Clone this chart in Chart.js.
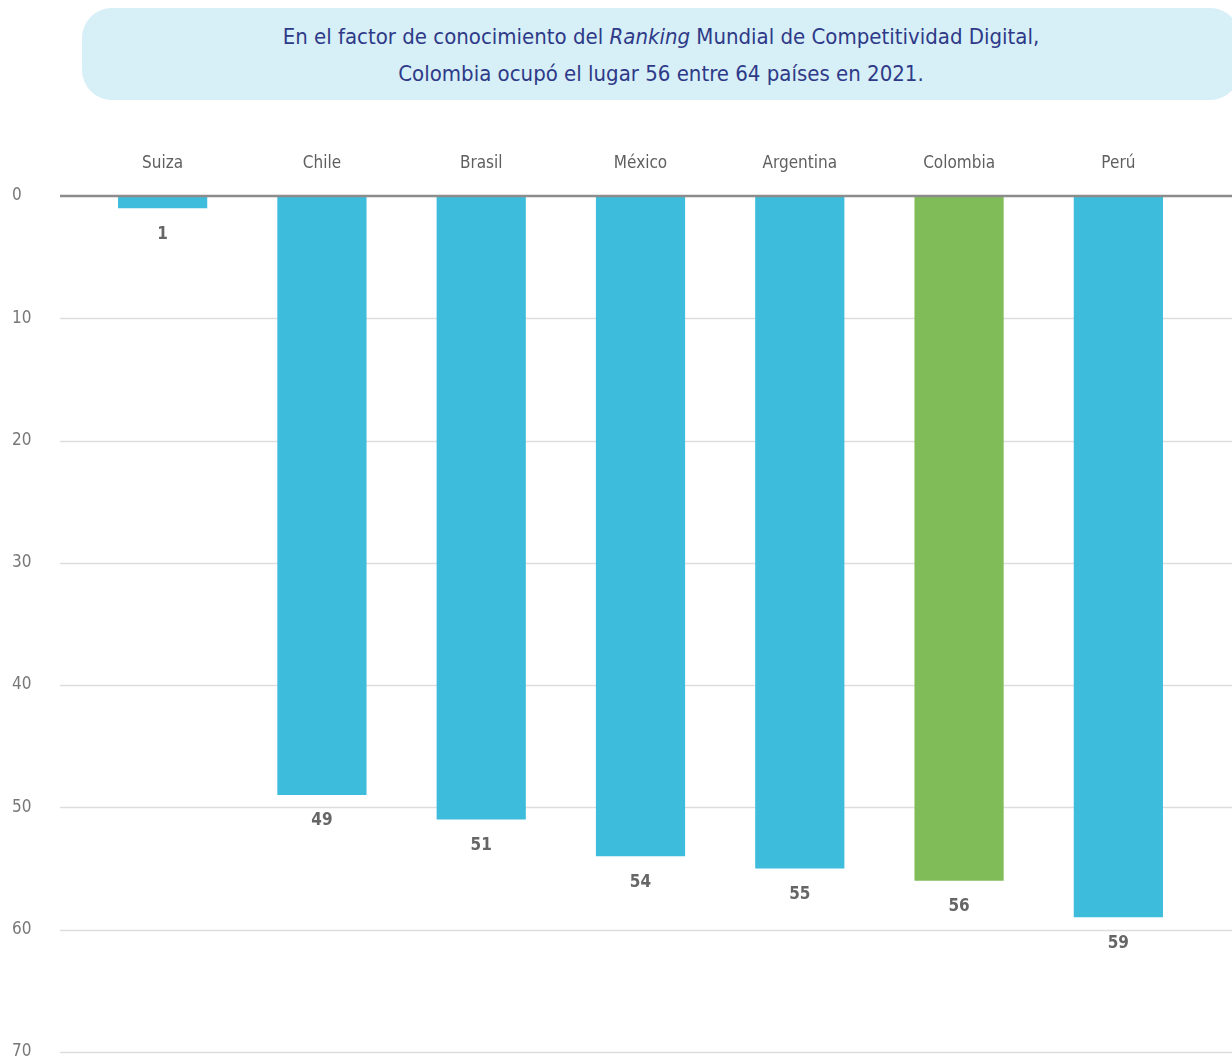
<!DOCTYPE html>
<html>
<head>
<meta charset="utf-8">
<script src="https://cdn.jsdelivr.net/npm/chart.js@4.4.1/dist/chart.umd.min.js"></script>
<style>
  html, body { margin: 0; padding: 0; background: #fff; }
  #wrap { position: relative; width: 1232px; height: 1062px; overflow: hidden; }
  #title {
    position: absolute; left: 82px; top: 8px; width: 1158px; height: 92px;
    background: #d7eff7; border-radius: 30px;
    font-family: "Liberation Sans Narrow", "DejaVu Sans Condensed", sans-serif;
    font-size: 22px; line-height: 37px; color: #2e3a87; text-align: center;
    box-sizing: border-box; padding-top: 10px;
  }
  #myChart { position: absolute; left: 0; top: 0; }
</style>
</head>
<body>
<div id="wrap">
  <canvas id="myChart" width="1232" height="1062"></canvas>
  <div id="title">En el factor de conocimiento del <i>Ranking</i> Mundial de Competitividad Digital,<br>Colombia ocupó el lugar 56 entre 64 países en 2021.</div>
</div>
<script>
// ranking puestos (menor = mejor)
let countries = ['Suiza', 'Chile', 'Brasil', 'México', 'Argentina', 'Colombia', 'Perú'];
let ranks = [1, 49, 51, 54, 55, 56, 59];
let yTicks = [0, 10, 20, 30, 40, 50, 60, 70];

let blue = '#3dbcdc';
let green = '#80bd58';
let fontFam = '"Liberation Sans Narrow", "DejaVu Sans Condensed", sans-serif';

let barColors = countries.map(c => c == 'Colombia' ? green : blue);

// grid lines span wider than the category area, so draw them by hand
const gridLines = {
  id: 'gridLines',
  beforeDatasetsDraw(chart) {
    let ctx = chart.ctx;
    let y = chart.scales.y;
    ctx.save();
    ctx.strokeStyle = '#dddddd';
    ctx.lineWidth = 1.5;
    yTicks.forEach(t => {
      if (t == 0) return;
      let py = Math.round(y.getPixelForValue(t)) + 0.5;
      ctx.beginPath();
      ctx.moveTo(60, py);
      ctx.lineTo(chart.width, py);
      ctx.stroke();
    });
    ctx.restore();
  },
  afterDatasetsDraw(chart) {
    let ctx = chart.ctx;
    let y = chart.scales.y;
    ctx.save();
    // zero line on top of the bars
    let py = y.getPixelForValue(0);
    ctx.strokeStyle = '#8c8c8c';
    ctx.lineWidth = 2.5;
    ctx.beginPath();
    ctx.moveTo(60, py);
    ctx.lineTo(chart.width, py);
    ctx.stroke();

    // value labels under each bar
    ctx.fillStyle = '#666666';
    ctx.font = 'bold 17px ' + fontFam;
    ctx.textAlign = 'center';
    ctx.textBaseline = 'middle';
    let meta = chart.getDatasetMeta(0);
    meta.data.forEach((bar, i) => {
      ctx.fillText(ranks[i], bar.x, bar.y + 26);
    });
    ctx.restore();
  }
};

const config = {
  type: 'bar',
  data: {
    labels: countries,
    datasets: [{
      data: ranks,
      backgroundColor: barColors,
      borderWidth: 0,
      categoryPercentage: 1,
      barPercentage: 0.56
    }]
  },
  options: {
    responsive: false,
    animation: false,
    layout: { padding: { left: 12, right: 34, top: 0, bottom: 10 } },
    plugins: {
      legend: { display: false },
      tooltip: { enabled: false }
    },
    scales: {
      x: {
        position: 'top',
        grid: { display: false, drawTicks: false },
        border: { display: false },
        ticks: {
          color: '#5f5f5f',
          font: { family: fontFam, size: 17 },
          padding: 22
        },
        afterFit(scale) { scale.height = 196; }
      },
      y: {
        reverse: true,
        min: 0,
        max: 70,
        grid: { display: false, drawTicks: false },
        border: { display: false },
        ticks: {
          stepSize: 10,
          color: '#777777',
          font: { family: fontFam, size: 17 },
          crossAlign: 'far',
          padding: 0
        },
        afterFit(scale) { scale.width = 71; }
      }
    }
  },
  plugins: [gridLines]
};

var myChart = new Chart(document.getElementById('myChart'), config);
</script>
</body>
</html>
